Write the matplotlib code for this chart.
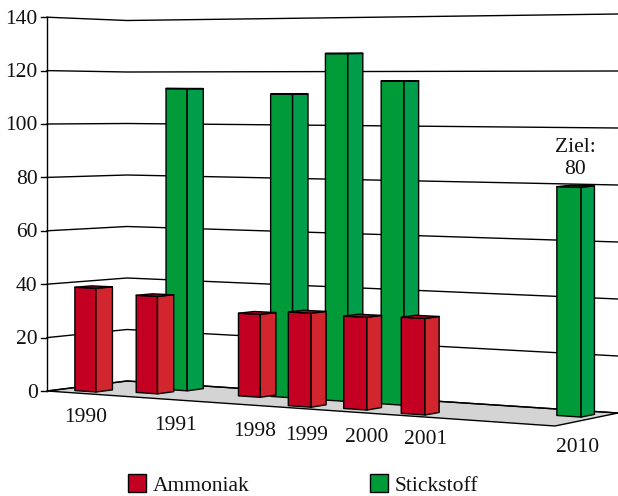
import matplotlib
matplotlib.use("Agg")
import matplotlib.pyplot as plt
from matplotlib.patches import Patch, Polygon

plt.rcParams["font.family"] = ["Liberation Serif", "DejaVu Serif"]

# Emissions per year; None where a series has no bar
years = ["1990", "1991", "1998", "1999", "2000", "2001", "2010"]
ammoniak = [38.8, 36.3, 30.6, 33.7, 33.0, 33.9, None]
stickstoff = [None, 113.6, 111.7, 126.7, 116.7, None, 80]
y_ticks = [0, 20, 40, 60, 80, 100, 120, 140]

# Placement of each bar on the floor: u runs along the front edge, d towards the back
ammoniak_u = [0.073, 0.172, 0.344, 0.503, 0.605, 0.728, None]
ammoniak_d = [0.15, 0.30, 0.52, 0.12, 0.18, 0.12, None]
stickstoff_u = [None, 0.182, 0.394, 0.505, 0.618, None, 0.974]
stickstoff_d = [None, 0.62, 0.62, 0.62, 0.62, None, 0.62]

# Year labels sit below the slanted front edge
year_label_xy = [(85.5, 417), (176, 425), (255, 431), (307, 435.5),
                 (367, 437), (426, 439), (578, 447)]

# Corners of the floor and the height scale at each corner (pixels per unit)
FRONT_LEFT, FRONT_RIGHT = (47, 391), (555, 426)
BACK_LEFT, BACK_RIGHT = (127, 381), (618, 413)
SCALE_FL, SCALE_FR, SCALE_BL, SCALE_BR = 2.67, 2.93, 2.575, 2.85

RED_FRONT, RED_SIDE = "#c40022", "#d2262f"
GREEN_FRONT, GREEN_SIDE = "#009a38", "#009d4b"
FLOOR = "#d4d4d4"
LW = 1.0
FONT_SIZE = 15.5


def blend(fl, fr, bl, br, u, d):
    return (1 - u) * (1 - d) * fl + u * (1 - d) * fr + (1 - u) * d * bl + u * d * br


def project(u, d, value=0):
    x = blend(FRONT_LEFT[0], FRONT_RIGHT[0], BACK_LEFT[0], BACK_RIGHT[0], u, d)
    y = blend(FRONT_LEFT[1], FRONT_RIGHT[1], BACK_LEFT[1], BACK_RIGHT[1], u, d)
    return x, y - value * blend(SCALE_FL, SCALE_FR, SCALE_BL, SCALE_BR, u, d)


def draw_bar(ax, u, d, value, front, side, z):
    width = 0.041 + 0.008 * u
    depth = 0.21
    fl, fr = (u - width, d), (u, d)
    br, bl = (u, d + depth), (u - width, d + depth)
    faces = [
        ([fl, fr, fr, fl], [0, 0, value, value], front),
        ([fr, br, br, fr], [0, 0, value, value], side),
        ([fl, fr, br, bl], [value] * 4, front),
    ]
    for corners, heights, colour in faces:
        pts = [project(c[0], c[1], h) for c, h in zip(corners, heights)]
        ax.add_patch(Polygon(pts, closed=True, facecolor=colour, edgecolor="black",
                             linewidth=LW, joinstyle="round", zorder=z))


fig = plt.figure(figsize=(6.18, 4.96), dpi=100)
ax = fig.add_axes([0, 0, 1, 1])
ax.set_xlim(0, 618)
ax.set_ylim(496, 0)
ax.axis("off")

# Floor
floor_pts = [project(0, 0), project(1, 0), project(1, 1), project(0, 1)]
ax.add_patch(Polygon(floor_pts, closed=True, facecolor=FLOOR, edgecolor="black",
                     linewidth=LW, zorder=1))

# Gridlines fold at the back-left corner of the walls, with a tick on the axis
for tick in y_ticks:
    corners = [project(0, 0, tick), project(0, 1, tick), project(1, 1, tick)]
    ax.plot([c[0] for c in corners], [c[1] for c in corners],
            color="black", lw=LW, zorder=2, solid_joinstyle="round")
    x0, y0 = corners[0]
    ax.plot([x0 - 6, x0], [y0, y0], color="black", lw=LW, zorder=2)
    ax.text(x0 - 9.5, y0 + 2, str(tick), ha="right", va="center", fontsize=FONT_SIZE,
            color="#111111")

# Value axis
bottom, top = project(0, 0, y_ticks[0]), project(0, 0, y_ticks[-1])
ax.plot([bottom[0], top[0]], [bottom[1], top[1]], color="black", lw=LW, zorder=2)

# Green bars stand behind the red ones
for u, d, value in zip(stickstoff_u, stickstoff_d, stickstoff):
    if value is not None:
        draw_bar(ax, u, d, value, GREEN_FRONT, GREEN_SIDE, 3)
for u, d, value in zip(ammoniak_u, ammoniak_d, ammoniak):
    if value is not None:
        draw_bar(ax, u, d, value, RED_FRONT, RED_SIDE, 4)

for label, (x, y) in zip(years, year_label_xy):
    ax.text(x, y, label, ha="center", va="center", fontsize=FONT_SIZE, color="#111111")

# Target value above the 2010 bar
target = stickstoff[-1]
tx, ty = project(stickstoff_u[-1], stickstoff_d[-1], target)
ax.text(tx - 6, ty - 8, f"Ziel:\n{target}", ha="center", va="bottom",
        fontsize=FONT_SIZE, linespacing=1.2, color="#111111", zorder=5)

handles = [Patch(facecolor=RED_FRONT, edgecolor="black", linewidth=LW, label="Ammoniak"),
           Patch(facecolor=GREEN_FRONT, edgecolor="black", linewidth=LW, label="Stickstoff")]
ax.legend(handles=handles, ncol=2, frameon=False, fontsize=FONT_SIZE,
          loc="center left", bbox_to_anchor=(128, 485), bbox_transform=ax.transData,
          borderpad=0, borderaxespad=0, handlelength=0.85, handleheight=0.85,
          handletextpad=0.3, columnspacing=5.6, labelcolor="#111111")

fig.savefig("out.png", dpi=100)
